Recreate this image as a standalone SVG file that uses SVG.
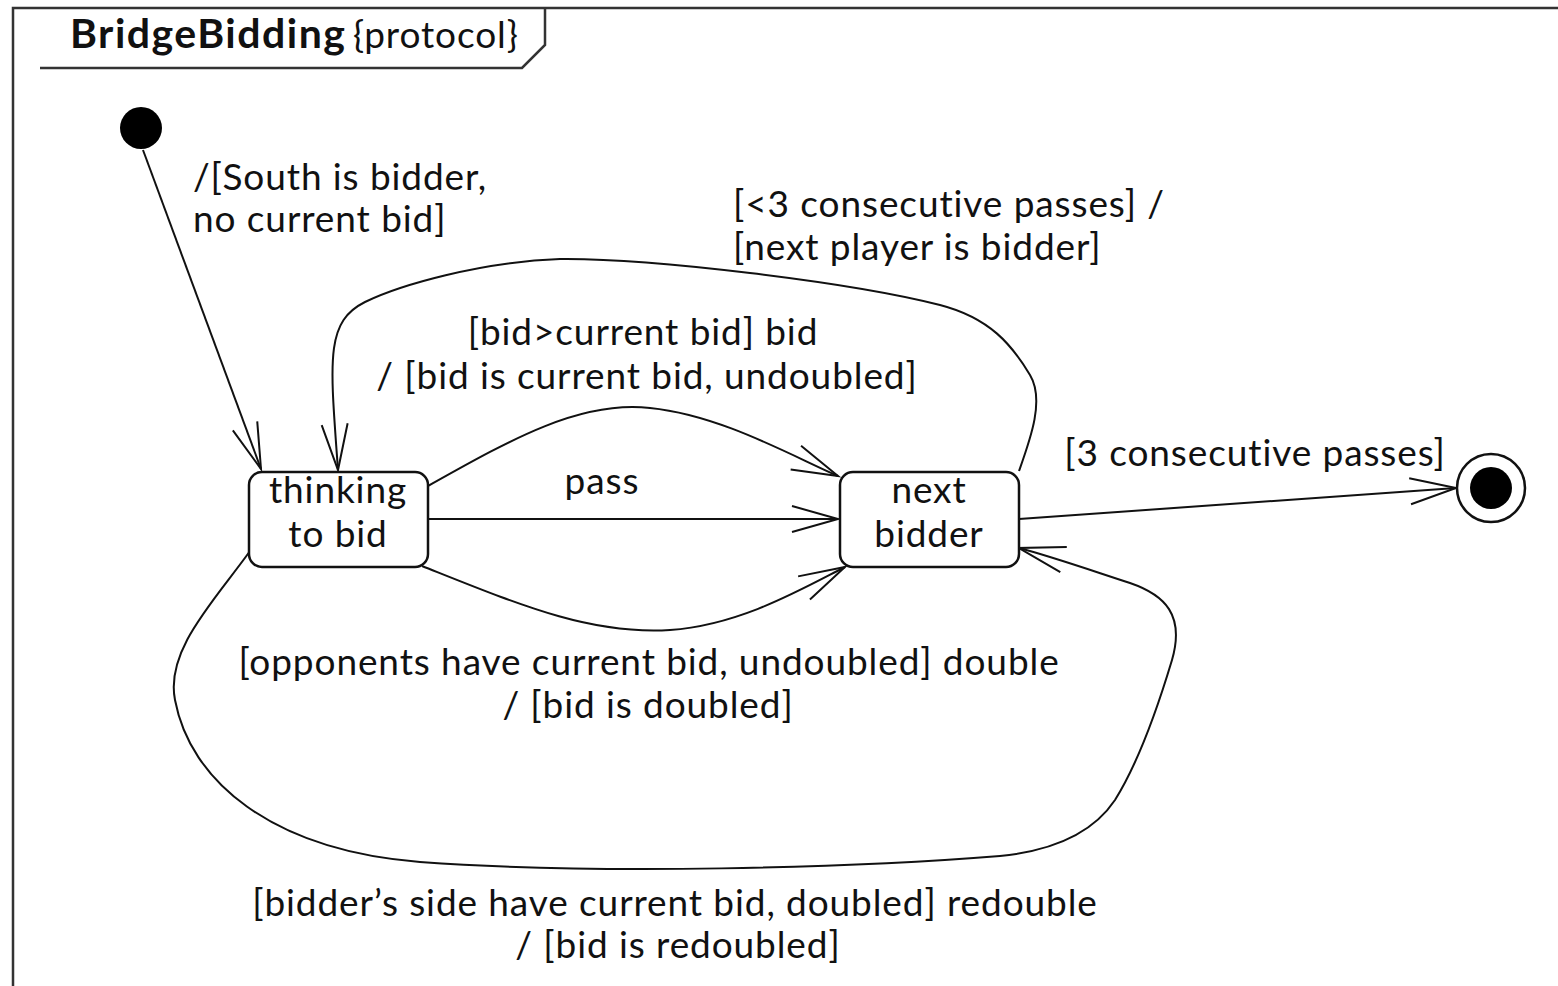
<svg xmlns="http://www.w3.org/2000/svg" width="1558" height="986" viewBox="0 0 1558 986">
  <style>
    text { font-family: Lato, "Open Sans", "DejaVu Sans", sans-serif; font-size: 37px; letter-spacing: 0.9px; fill: #111; }
    .mid { text-anchor: middle; }
    .title { font-weight: bold; font-size: 41px; letter-spacing: 1.5px; }
    .frame { fill: none; stroke: #333; stroke-width: 2.5; }
    .state { fill: #fff; stroke: #111; stroke-width: 2.5; }
    .edge { fill: none; stroke: #111; stroke-width: 2; }
  </style>
  <defs>
    <marker id="open" markerUnits="userSpaceOnUse" markerWidth="60" markerHeight="40" viewBox="-50 -20 60 40" refX="0" refY="0" orient="auto" overflow="visible">
      <path d="M-46,-13 L0,0 L-46,13" fill="none" stroke="#111" stroke-width="2"/>
    </marker>
  </defs>
  <rect width="1558" height="986" fill="#fff"/>

  <!-- frame with name tab -->
  <g id="frame">
    <path class="frame" d="M13,986 L13,8 L1558,8"/>
    <path class="frame" d="M40,68 L522,68 L545,45 L545,8"/>
    <text x="70" y="48" class="title">BridgeBidding</text>
    <text x="353" y="48">{protocol}</text>
  </g>

  <!-- transitions -->
  <g id="connectors">
    <path class="edge" d="M143,150 L261,469" marker-end="url(#open)"/>
    <path class="edge" d="M1019,471 C1030,440 1045,400 1030,375 C1012,345 990,318 940,305 C850,282 650,258 560,259 C480,262 400,285 365,302 C325,322 330,360 338,470" marker-end="url(#open)"/>
    <path class="edge" d="M428,486 C510,440 580,400 650,408 C720,415 790,455 838,476" marker-end="url(#open)"/>
    <path class="edge" d="M428,519 L838,519" marker-end="url(#open)"/>
    <path class="edge" d="M422,566 C520,605 590,635 670,630 C740,625 800,590 845,567" marker-end="url(#open)"/>
    <path class="edge" d="M250,551 C215,600 165,650 175,700 C190,780 270,850 420,862 C600,875 850,868 1000,856 C1060,850 1095,830 1115,800 C1140,760 1160,700 1172,660 C1185,615 1165,595 1130,583 C1090,570 1050,556 1019,548" marker-end="url(#open)"/>
    <path class="edge" d="M1019,519 L1456,488" marker-end="url(#open)"/>

    <text x="193" y="190">/[South is bidder,</text>
    <text x="193" y="232">no current bid]</text>
    <text x="733" y="217">[&lt;3 consecutive passes] /</text>
    <text x="733" y="260">[next player is bidder]</text>
    <text x="643" y="345" class="mid">[bid&gt;current bid] bid</text>
    <text x="647" y="389" class="mid">/ [bid is current bid, undoubled]</text>
    <text x="602" y="494" class="mid">pass</text>
    <text x="1255" y="466" class="mid">[3 consecutive passes]</text>
    <text x="649" y="675" class="mid">[opponents have current bid, undoubled] double</text>
    <text x="648" y="718" class="mid">/ [bid is doubled]</text>
    <text x="675" y="916" class="mid">[bidder’s side have current bid, doubled] redouble</text>
    <text x="678" y="958" class="mid">/ [bid is redoubled]</text>
  </g>

  <g id="initial">
    <circle cx="141" cy="128" r="21" fill="#000"/>
  </g>

  <g id="thinking">
    <rect class="state" x="249" y="472" width="179" height="95" rx="13"/>
    <text x="338" y="503" class="mid">thinking</text>
    <text x="338" y="547" class="mid">to bid</text>
  </g>

  <g id="nextBidder">
    <rect class="state" x="840" y="472" width="179" height="95" rx="13"/>
    <text x="929" y="503" class="mid">next</text>
    <text x="929" y="547" class="mid">bidder</text>
  </g>

  <g id="final">
    <circle cx="1491" cy="488" r="34" fill="#fff" stroke="#111" stroke-width="2.5"/>
    <circle cx="1491" cy="488" r="21" fill="#000"/>
  </g>
</svg>
